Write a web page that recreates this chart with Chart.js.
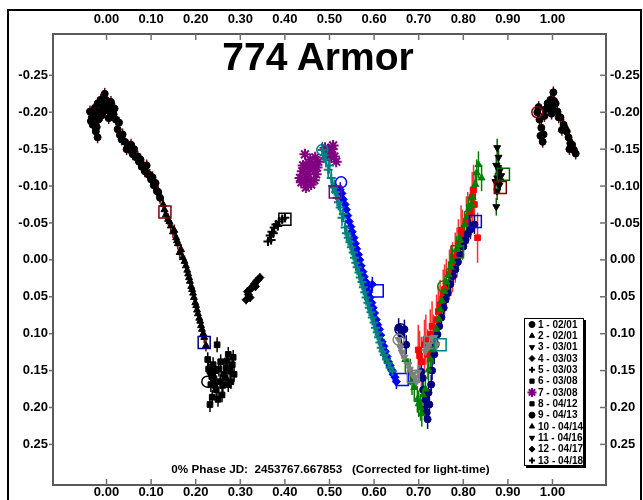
<!DOCTYPE html>
<html><head><meta charset="utf-8">
<script src="https://cdn.jsdelivr.net/npm/chart.js@4/dist/chart.umd.min.js"></script>
<style>
html,body{margin:0;padding:0;background:#fff;}
#wrap{position:relative;width:643px;height:500px;overflow:hidden;background:#fff;}
#frame{position:absolute;left:7px;top:9px;width:635px;height:520px;border:2px solid #000;box-sizing:border-box;}
#c{position:absolute;left:0;top:0;}
#title{position:absolute;left:0;width:636px;top:37px;text-align:center;font:bold 39px 'Liberation Sans',Arial,sans-serif;line-height:39px;color:#000;}
#sub{position:absolute;left:0;width:661px;top:462px;text-align:center;white-space:pre;font:bold 11.7px 'Liberation Sans',Arial,sans-serif;line-height:14px;color:#000;}
</style></head>
<body>
<div id="wrap">
<div id="frame"></div>
<canvas id="c" width="643" height="500"></canvas>
<div id="title">774 Armor</div>
<div id="sub">0% Phase JD:  2453767.667853   (Corrected for light-time)</div>
</div>
<script>
// ---------- DATA (phase, relative magnitude) ----------
const phaseTicks = [0.00,0.10,0.20,0.30,0.40,0.50,0.60,0.70,0.80,0.90,1.00];
const magTicks = [-0.25,-0.20,-0.15,-0.10,-0.05,0.00,0.05,0.10,0.15,0.20,0.25];
const seriesLabels = ['1 - 02/01','2 - 02/01','3 - 03/01','4 - 03/03','5 - 03/03','6 - 03/08','7 - 03/08','8 - 04/12','9 - 04/13','10 - 04/14','11 - 04/16','12 - 04/17','13 - 04/18'];

const s1 = [[-0.037,-0.201],[-0.033,-0.193],[-0.031,-0.183],[-0.026,-0.206],[-0.024,-0.174],[-0.020,-0.212],[-0.020,-0.166],[-0.015,-0.201],[-0.013,-0.217],[-0.008,-0.209],[-0.004,-0.225],[-0.002,-0.204],[0.003,-0.213],[0.007,-0.201],[0.012,-0.206],[0.016,-0.197],[0.021,-0.190],[0.025,-0.177],[0.030,-0.169],[0.034,-0.163],[0.041,-0.160],[0.048,-0.155],[0.052,-0.149],[0.059,-0.143],[0.066,-0.139],[0.073,-0.133],[0.079,-0.126],[0.086,-0.120],[0.093,-0.116],[0.100,-0.109],[0.106,-0.101],[0.113,-0.093],[0.120,-0.084],
  [-0.035,-0.188],[-0.028,-0.197],[-0.018,-0.190],[-0.010,-0.196],[0.000,-0.216],[0.005,-0.192],[0.010,-0.214],[0.018,-0.205],[-0.022,-0.180],[0.028,-0.186],[0.036,-0.170],[0.045,-0.150],[0.055,-0.156],[0.062,-0.150],[0.070,-0.140],[0.076,-0.136],[0.083,-0.128],[0.090,-0.128],[0.097,-0.115],[0.103,-0.112],[0.110,-0.104],[0.116,-0.092],
  [0.966,-0.200],[0.971,-0.190],[0.975,-0.179],[0.980,-0.170],[0.978,-0.160],[0.984,-0.204],[0.989,-0.212],[0.996,-0.217],[1.002,-0.227],[1.000,-0.206],[1.007,-0.212],[1.011,-0.201],[1.018,-0.193],[1.025,-0.183],[1.032,-0.174],[1.036,-0.166],[1.040,-0.158],[1.048,-0.149],[1.052,-0.144],
  [0.969,-0.207],[0.982,-0.195],[0.992,-0.205],[0.998,-0.198],[1.004,-0.215],[1.014,-0.193],[1.021,-0.176],[1.028,-0.178],[1.044,-0.156],[1.038,-0.150],[0.973,-0.168]];
const s2 = [[0.127,-0.075],[0.133,-0.061],[0.138,-0.055],[0.144,-0.046],[0.149,-0.038],[0.156,-0.030],[0.160,-0.022],[0.167,-0.014],[0.171,-0.003],[0.178,0.008],[0.183,0.019],[0.187,0.029],[0.192,0.040],[0.196,0.051],[0.201,0.062],[0.205,0.073],[0.210,0.083],[0.214,0.094],[0.219,0.105],[0.223,0.116],
  [0.130,-0.068],[0.141,-0.052],[0.152,-0.040],[0.158,-0.026],[0.164,-0.010],[0.175,0.002],[0.181,0.014],[0.185,0.024],[0.190,0.036],[0.194,0.045],[0.199,0.058],[0.203,0.068],[0.208,0.079],[0.212,0.089],[0.217,0.100]];
const s3 = [[0.876,-0.152],[0.879,-0.139],[0.874,-0.128],[0.881,-0.120],[0.876,-0.111],[0.885,-0.114],[0.872,-0.106],[0.881,-0.101],[0.876,-0.093],[0.874,-0.072],[0.878,-0.125],[0.883,-0.107]];
const s4 = [[0.313,0.054],[0.318,0.047],[0.322,0.040],[0.327,0.037],[0.331,0.033],[0.336,0.029],[0.340,0.027],[0.344,0.024],[0.322,0.051],[0.316,0.043],[0.334,0.036]];
const s5 = [[0.362,-0.025],[0.367,-0.033],[0.371,-0.038],[0.376,-0.044],[0.380,-0.048],[0.387,-0.052],[0.394,-0.055],[0.400,-0.057],[0.369,-0.027],[0.374,-0.036],[0.384,-0.046]];
const s6 = [[0.227,0.135],[0.232,0.151],[0.234,0.169],[0.237,0.186],[0.232,0.196],[0.241,0.161],[0.246,0.176],[0.248,0.115],[0.252,0.148],[0.255,0.165],[0.259,0.183],[0.263,0.155],[0.268,0.146],[0.273,0.128],[0.273,0.169],[0.277,0.151],[0.282,0.142],[0.286,0.155],[0.239,0.142],[0.250,0.189],
  [0.236,0.158],[0.243,0.170],[0.256,0.138],[0.261,0.170],[0.266,0.160],[0.270,0.137],[0.279,0.165],[0.284,0.132],[0.229,0.148],[0.244,0.150]];
const s7 = [[0.434,-0.111],[0.439,-0.120],[0.443,-0.106],[0.448,-0.129],[0.452,-0.116],[0.457,-0.136],[0.459,-0.102],[0.464,-0.125],[0.468,-0.139],[0.470,-0.116],[0.475,-0.133],[0.445,-0.143],[0.490,-0.152],[0.495,-0.143],[0.499,-0.149],[0.504,-0.139],[0.508,-0.155],[0.515,-0.133],
  [0.437,-0.105],[0.441,-0.128],[0.450,-0.110],[0.455,-0.123],[0.461,-0.130],[0.466,-0.108],[0.472,-0.125],[0.447,-0.098],[0.493,-0.148],[0.502,-0.145],[0.506,-0.150],[0.511,-0.140]];
const s8 = [[0.699,0.122],[0.706,0.138],[0.713,0.115],[0.720,0.128],[0.726,0.101],[0.733,0.108],[0.740,0.081],[0.748,0.061],[0.755,0.047],[0.762,0.033],[0.769,0.020],[0.776,0.010],[0.782,-0.003],[0.789,-0.021],[0.798,-0.034],[0.807,-0.052],[0.816,-0.065],[0.825,-0.075],[0.832,-0.030],[0.823,-0.095],
  [0.702,0.130],[0.716,0.108],[0.730,0.090],[0.744,0.070],[0.758,0.040],[0.772,0.015],[0.786,-0.010],[0.795,-0.040],[0.810,-0.058],[0.820,-0.085]];
const s9 = [[0.655,0.092],[0.661,0.101],[0.668,0.094],[0.672,0.115],[0.706,0.152],[0.710,0.176],[0.715,0.189],[0.713,0.203],[0.720,0.216],[0.724,0.196],[0.728,0.169],[0.735,0.128],[0.742,0.101],[0.751,0.078],[0.760,0.054],[0.771,0.033],[0.782,0.013],[0.793,-0.007],[0.805,-0.027],[0.816,-0.041],[0.825,-0.048],
  [0.709,0.160],[0.718,0.207],[0.722,0.180],[0.730,0.150],[0.738,0.115],[0.746,0.090],[0.756,0.065],[0.765,0.045],[0.777,0.022],[0.788,0.003],[0.800,-0.018],[0.810,-0.035]];
const s10 = [[0.670,0.135],[0.681,0.152],[0.690,0.173],[0.697,0.189],[0.704,0.200],[0.710,0.183],[0.722,0.149],[0.731,0.122],[0.740,0.094],[0.748,0.067],[0.758,0.043],[0.767,0.020],[0.776,0.002],[0.785,-0.014],[0.793,-0.027],[0.803,-0.048],[0.812,-0.068],[0.821,-0.084],[0.827,-0.102],[0.834,-0.129],[0.841,-0.111],
  [0.685,0.165],[0.700,0.195],[0.707,0.208],[0.715,0.175],[0.726,0.135],[0.736,0.108],[0.745,0.080],[0.752,0.055],[0.762,0.030],[0.772,0.010],[0.790,-0.020],[0.808,-0.058],[0.818,-0.075],[0.830,-0.118]];
const s11 = [[0.655,0.108],[0.659,0.119],[0.668,0.132],[0.677,0.142],[0.686,0.155],[0.692,0.160],[0.699,0.152],[0.722,0.115],[0.731,0.108],[0.740,0.115],[0.715,0.124],[0.662,0.125],[0.680,0.148],[0.695,0.165],[0.719,0.120],[0.735,0.105]];
const s12 = [[0.524,-0.095],[0.531,-0.082],[0.538,-0.068],[0.544,-0.052],[0.551,-0.038],[0.558,-0.022],[0.565,-0.007],[0.571,0.008],[0.578,0.023],[0.585,0.036],[0.591,0.051],[0.598,0.065],[0.605,0.081],[0.612,0.094],[0.618,0.111],[0.625,0.124],[0.632,0.138],[0.639,0.149],[0.647,0.159],[0.596,0.033],
  [0.528,-0.090],[0.535,-0.075],[0.541,-0.060],[0.548,-0.045],[0.555,-0.030],[0.561,-0.015],[0.568,0.000],[0.575,0.016],[0.582,0.030],[0.588,0.044],[0.595,0.058],[0.601,0.072],[0.608,0.088],[0.615,0.102],[0.622,0.117],[0.629,0.131],[0.636,0.143],[0.643,0.155],[0.650,0.165]];
const s13 = [[0.484,-0.149],[0.492,-0.136],[0.497,-0.122],[0.504,-0.111],[0.511,-0.098],[0.517,-0.084],[0.524,-0.071],[0.528,-0.057],[0.535,-0.044],[0.542,-0.030],[0.549,-0.017],[0.556,-0.003],[0.562,0.010],[0.569,0.024],[0.576,0.037],[0.582,0.051],[0.589,0.065],[0.596,0.078],[0.603,0.092],[0.610,0.105],[0.616,0.119],[0.623,0.129],[0.632,0.140],[0.641,0.151],
  [0.488,-0.142],[0.500,-0.128],[0.507,-0.100],[0.514,-0.092],[0.520,-0.078],[0.531,-0.062],[0.538,-0.036],[0.546,-0.024],[0.553,-0.010],[0.559,0.004],[0.566,0.017],[0.573,0.030],[0.579,0.044],[0.586,0.058],[0.593,0.071],[0.600,0.085],[0.607,0.098],[0.613,0.112],[0.620,0.124],[0.628,0.135],[0.636,0.146]];
const seriesErr = [0.008,0.008,0.012,0.006,0.006,0.010,0.005,0.034,0.013,0.018,0.009,0.010,0.011];

const openPhase = [0.131,0.219,0.226,0.400,0.484,0.526,0.513,0.607,0.663,0.659,0.655,0.688,0.726,0.748,0.755,0.787,0.827,0.890,0.883,0.966];
const openMag   = [-0.065,0.112,0.165,-0.055,-0.149,-0.105,-0.092,0.042,0.162,0.094,0.108,0.158,0.112,0.115,0.036,-0.011,-0.052,-0.116,-0.098,-0.200];

// ---------- STYLE ----------
const seriesData = [s1,s2,s3,s4,s5,s6,s7,s8,s9,s10,s11,s12,s13];
const markerStyle = ['circle','triangle','triangle','rectRot','cross','rect','star','rect','circle','triangle','triangle','rectRot','cross'];
const markerRot = [0,0,180,0,0,0,0,0,0,0,180,0,0];
const markerSize = [3.5,4,4,4,4.5,4,5.5,4,3.5,4,4,4,4.5];
const seriesColor = ['#000','#000','#000','#000','#000','#000','#800080','#ff0000','#000080','#008000','#808080','#0000ff','#008080'];
const errColor = ['#800000','#800000','#006400','#000','#000','#000','#800080','#ff3030','#000080','#008000','#808080','#0000ff','#008080'];
const legendColor = ['#000','#000','#000','#000','#000','#000','#800080','#000','#000','#000','#000','#000','#000'];
const openStyle = ['rect','rect','circle','rect','circle','circle','rect','rect','rect','circle','circle','rect','rect','rect','circle','rect','rect','rect','rect','circle'];
const openColor = ['#800000','#000080','#000','#000','#008080','#0000ff','#800080','#0000ff','#0000ff','#000080','#808080','#808080','#808080','#008080','#008000','#008000','#0000ff','#006400','#800000','#800000'];
const FONT = "'Liberation Sans', Arial, sans-serif";

const datasets = seriesData.map((d,i)=>({
  label: seriesLabels[i],
  data: d.map(p=>({x:p[0], y:p[1]})),
  pointStyle: markerStyle[i], rotation: markerRot[i], pointRadius: markerSize[i],
  backgroundColor: seriesColor[i], borderColor: seriesColor[i], borderWidth: (markerStyle[i]==='cross'||markerStyle[i]==='star')?2:1,
  showLine:false, errBar: seriesErr[i], errColor: errColor[i], order: 13-i
}));
datasets.push({
  label:'open', data: openPhase.map((p,i)=>({x:p, y:openMag[i]})),
  pointStyle: openStyle, pointRadius: openStyle.map(s=>s==='rect'?8.5:5.5),
  backgroundColor:'rgba(0,0,0,0)', borderColor: openColor, pointBorderColor: openColor, borderWidth:1.5, showLine:false, order:-1
});

const errPlugin = {
  id:'errbars',
  beforeDatasetsDraw(chart){
    const {ctx, chartArea:a, scales:{x,y}} = chart;
    ctx.save(); ctx.beginPath(); ctx.rect(a.left,a.top,a.right-a.left,a.bottom-a.top); ctx.clip();
    ctx.lineWidth = 1.5;
    chart.data.datasets.forEach(ds=>{
      if(!ds.errBar) return;
      ctx.strokeStyle = ds.errColor;
      ds.data.forEach(p=>{
        const px = x.getPixelForValue(p.x);
        ctx.beginPath();
        ctx.moveTo(px, y.getPixelForValue(p.y-ds.errBar));
        ctx.lineTo(px, y.getPixelForValue(p.y+ds.errBar));
        ctx.stroke();
      });
    });
    ctx.restore();
  }
};
const decoPlugin = {
  id:'deco',
  afterDraw(chart){
    const {ctx, chartArea:a, scales} = chart;
    ctx.save();
    ctx.strokeStyle='#707070'; ctx.lineWidth=1.5;
    const line=(x1,y1,x2,y2)=>{ctx.beginPath();ctx.moveTo(x1,y1);ctx.lineTo(x2,y2);ctx.stroke();};
    phaseTicks.forEach(v=>{const px=scales.x.getPixelForValue(v); line(px,a.top,px,a.top+6); line(px,a.bottom,px,a.bottom-6);});
    magTicks.forEach(v=>{const py=scales.y.getPixelForValue(v); line(a.left-4,py,a.left,py); line(a.right-6,py,a.right+1,py);});
    // legend
    const lx=524, ly=318, lw=60, lh=148;
    ctx.fillStyle='#000'; ctx.fillRect(lx+2,ly+2,lw,lh);
    ctx.fillStyle='#fff'; ctx.fillRect(lx,ly,lw,lh);
    ctx.strokeStyle='#000'; ctx.lineWidth=1; ctx.strokeRect(lx+0.5,ly+0.5,lw-1,lh-1);
    ctx.font='bold 10px '+FONT; ctx.textBaseline='middle'; ctx.textAlign='left';
    seriesLabels.forEach((lab,i)=>{
      const yy = ly+6.5+i*11.33;
      ctx.fillStyle=legendColor[i]; ctx.strokeStyle=legendColor[i];
      ctx.lineWidth=(markerStyle[i]==='cross'||markerStyle[i]==='star')?2:1;
      Chart.helpers.drawPoint(ctx,{pointStyle:markerStyle[i],radius:markerStyle[i]==='star'?4.5:3,rotation:markerRot[i],borderWidth:ctx.lineWidth},lx+8,yy);
      ctx.fillStyle='#000';
      ctx.fillText(lab,lx+14,yy+0.5);
    });
    ctx.restore();
  }
};

const tickFont = {family:FONT, size:13, weight:'bold'};
const fmt = v=>Number(v).toFixed(2);
function axis(pos, extra, pad){
  return Object.assign({
    type:'linear', position:pos,
    grid:{display:true, drawOnChartArea:false, drawTicks:false},
    border:{display:true, color:'#5a5a5a', width:2},
    ticks:{font:tickFont, color:'#000', callback:fmt, autoSkip:false, maxRotation:0, padding:pad}
  }, extra);
}
const xMin=-0.12, xMax=1.12, yMin=-0.306, yMax=0.305;
const xt = s=>{s.ticks = phaseTicks.map(v=>({value:v}));};
const yt = s=>{s.ticks = magTicks.map(v=>({value:v}));};

new Chart(document.getElementById('c'), {
  type:'scatter',
  data:{datasets},
  options:{
    responsive:false, animation:false, devicePixelRatio:1,
    layout:{padding:0},
    plugins:{legend:{display:false}, tooltip:{enabled:false}, title:{display:false}},
    scales:{
      x: axis('bottom',{min:xMin,max:xMax,afterBuildTicks:xt,afterFit:s=>{s.height=15;}},0),
      x2: axis('top',{min:xMin,max:xMax,afterBuildTicks:xt,afterFit:s=>{s.height=34;}},7),
      y: axis('left',{min:yMin,max:yMax,reverse:true,afterBuildTicks:yt,afterFit:s=>{s.width=53;}},5),
      y2: axis('right',{min:yMin,max:yMax,reverse:true,afterBuildTicks:yt,afterFit:s=>{s.width=37;}},4)
    }
  },
  plugins:[errPlugin, decoPlugin]
});
</script>
</body></html>
